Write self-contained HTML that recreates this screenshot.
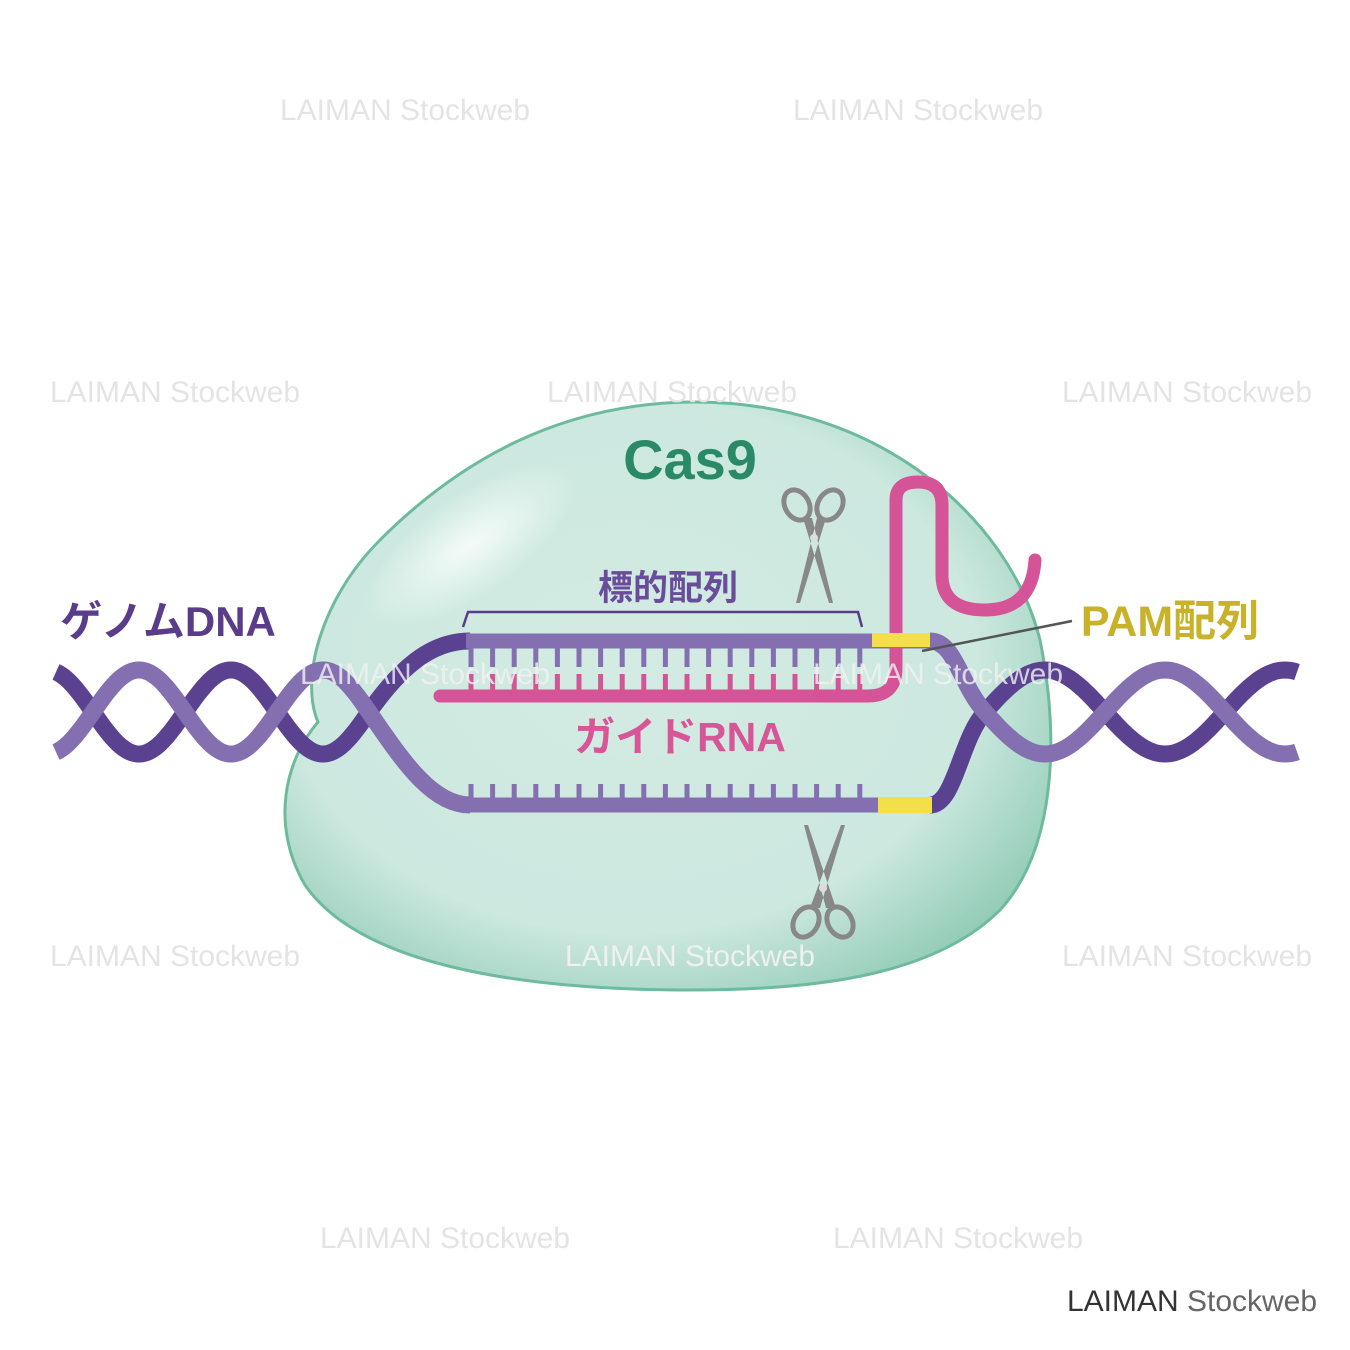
<!DOCTYPE html>
<html><head><meta charset="utf-8"><style>
html,body{margin:0;padding:0;background:#fff}
svg{display:block}
text{font-family:"Liberation Sans","Noto Sans CJK JP",sans-serif;font-weight:bold}
.wm text{fill:#e4e4e4;font-size:30px;font-weight:normal}
</style></head><body>
<svg id="s" width="1350" height="1350" viewBox="0 0 1350 1350" xmlns="http://www.w3.org/2000/svg">
<defs>
<radialGradient id="bg" cx="0.45" cy="0.45" r="0.65">
<stop offset="0" stop-color="#d3ebe3"/><stop offset="0.7" stop-color="#cce8df"/><stop offset="1" stop-color="#8fcab5"/>
</radialGradient>
<radialGradient id="hl" cx="0.5" cy="0.5" r="0.5">
<stop offset="0" stop-color="#f4fbf8"/><stop offset="1" stop-color="#f4fbf8" stop-opacity="0"/>
</radialGradient>
</defs>
<g class="wm">
<text x="405" y="120" text-anchor="middle">LAIMAN Stockweb</text>
<text x="918" y="120" text-anchor="middle">LAIMAN Stockweb</text>
</g>
<path d="M690 402 C880 400 1010 520 1040 640 C1060 740 1055 850 1000 910 C930 980 800 990 690 990 C520 990 360 965 305 885 C270 825 285 760 318 722 C300 680 320 600 380 540 C460 460 560 404 690 402 Z" fill="url(#bg)" stroke="#6dbb9c" stroke-width="3"/>
<ellipse cx="470" cy="545" rx="125" ry="50" transform="rotate(-35 470 545)" fill="url(#hl)"/>
<text x="690" y="479" text-anchor="middle" font-size="56" fill="#2a8a68">Cas9</text>
<g id="dna"></g>
<path d="M440 696 L868 696 Q896 696 896 668 L896 500 Q896 482 918 482 Q942 482 942 505 L942 575 Q942 610 985 610 Q1032 610 1035 560" fill="none" stroke="#d55397" stroke-width="13" stroke-linecap="round"/>
<g id="ticks"></g>
<rect x="872" y="633" width="58" height="14" fill="#f3df4a"/>
<rect x="878" y="797" width="54" height="16" fill="#f3df4a"/>
<line x1="922" y1="651" x2="1072" y2="621" stroke="#555" stroke-width="2.5"/>
<path d="M463 627 L468 612 L858 612 L862 627" fill="none" stroke="#5a3d8a" stroke-width="2.5"/>
<text x="668" y="600" text-anchor="middle" font-size="35" fill="#6a4d9a">標的配列</text>
<text x="168" y="636" text-anchor="middle" font-size="42" fill="#5a3d8a">ゲノムDNA</text>
<text x="1170" y="636" text-anchor="middle" font-size="43" fill="#c8b22a">PAM配列</text>
<text x="680" y="751" text-anchor="middle" font-size="41" fill="#d85598">ガイドRNA</text>
<g fill="none" stroke="#888" stroke-width="5">
<ellipse cx="797" cy="505" rx="12" ry="16" transform="rotate(-30 797 505)"/>
<ellipse cx="830" cy="505" rx="12" ry="16" transform="rotate(30 830 505)"/>
<ellipse cx="806" cy="922" rx="12" ry="16" transform="rotate(30 806 922)"/>
<ellipse cx="840" cy="922" rx="12" ry="16" transform="rotate(-30 840 922)"/>
</g>
<path d="M803 518 L812 518 L833 603 L829 603 Z M826 518 L817 518 L796 603 L800 603 Z" fill="#888"/>
<path d="M810 908 L820 908 L845 825 L841 825 Z M836 908 L826 908 L804 825 L808 825 Z" fill="#888"/>
<circle cx="814" cy="538" r="4" fill="#ddd"/><circle cx="823" cy="888" r="4" fill="#ddd"/>
<g class="wm">
<text x="175" y="402" text-anchor="middle">LAIMAN Stockweb</text>
<text x="672" y="402" text-anchor="middle">LAIMAN Stockweb</text>
<text x="1187" y="402" text-anchor="middle">LAIMAN Stockweb</text>
<text x="425" y="684" text-anchor="middle" style="fill:#f2f2f2;opacity:.8">LAIMAN Stockweb</text>
<text x="938" y="684" text-anchor="middle" style="fill:#f2f2f2;opacity:.8">LAIMAN Stockweb</text>
<text x="175" y="966" text-anchor="middle">LAIMAN Stockweb</text>
<text x="690" y="966" text-anchor="middle" style="fill:#f0f0f0">LAIMAN Stockweb</text>
<text x="1187" y="966" text-anchor="middle">LAIMAN Stockweb</text>
<text x="445" y="1248" text-anchor="middle">LAIMAN Stockweb</text>
<text x="958" y="1248" text-anchor="middle">LAIMAN Stockweb</text>
</g>
<text x="1192" y="1311" text-anchor="middle" font-size="30" fill="#333" style="font-weight:normal">LAIMAN <tspan fill="#666">Stockweb</tspan></text>
</svg>
<script>
(function(){
var NS="http://www.w3.org/2000/svg",g=document.getElementById("dna"),t=document.getElementById("ticks");
var A=42,PL=184,PR=240,m0=A*2*Math.PI/PL,m1=A*2*Math.PI/PR;
function hl(x,s){return 712+s*A*Math.sin(2*Math.PI*(x-369)/PL);}
function hr(x,s){return 712+s*A*Math.sin(2*Math.PI*(x-985)/PR);}
function leftPart(s){var d="";for(var x=56;x<=369;x+=2){d+=(x==56?"M":"L")+x+" "+hl(x,s).toFixed(1);}return d;}
function rightPart(s){var d="";for(var x=985;x<=1297;x+=2){d+=(x==985?"M":"L")+x+" "+hr(x,s).toFixed(1);}return d;}
// light strand: left s=+1 descends to bottom (805); dark s=-1 rises to top (641)
var lightL=leftPart(1)+" C399 "+(712+m0*30).toFixed(1)+" 430 805 470 805";
var darkL=leftPart(-1)+" C399 "+(712-m0*30).toFixed(1)+" 430 641 470 641";
// right: top strand (from 641) descends -> s=+1 right; bottom strand rises -> s=-1
var topR="M930 641 C955 641 "+(985-25)+" "+(712-m1*25).toFixed(1)+" 985 712 "+rightPart(1).replace(/^M/,"L");
var botR="M930 805 C955 805 "+(985-25)+" "+(712+m1*25).toFixed(1)+" 985 712 "+rightPart(-1).replace(/^M/,"L");
function add(d,c,w){var p=document.createElementNS(NS,"path");p.setAttribute("d",d);p.setAttribute("fill","none");p.setAttribute("stroke",c);p.setAttribute("stroke-width",w);g.appendChild(p);}
add(darkL,"#5a4290",17);
add("M466 641 L935 641","#8470b0",15);
add("M466 805 L935 805","#8470b0",15);
add(lightL,"#8470b0",17);
add(botR,"#5a4290",17);
add(topR,"#8470b0",17);
for(var i=0;i<19;i++){var x=471+i*21.6;
 [[647,20,"#8470b0"],[674,20,"#d55397"],[784,18,"#8470b0"]].forEach(function(q){
 var r=document.createElementNS(NS,"rect");r.setAttribute("x",x-2.5);r.setAttribute("y",q[0]);r.setAttribute("width",5);r.setAttribute("height",q[1]);r.setAttribute("fill",q[2]);t.appendChild(r);});}
})();
</script>
</body></html>
